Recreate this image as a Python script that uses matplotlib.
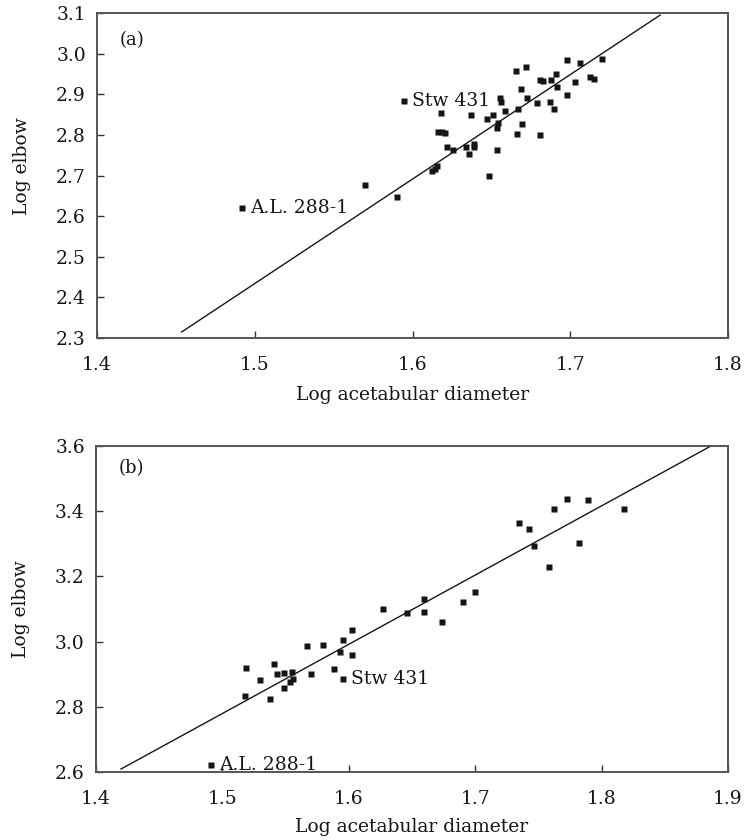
import matplotlib
matplotlib.use("Agg")
import matplotlib.pyplot as plt
import numpy as np

plt.rcParams['font.family'] = ['DejaVu Serif']

# ---- Panel (a) data ----
a_x = [1.570, 1.590, 1.6555, 1.6559, 1.6179, 1.6369, 1.647, 1.6508, 1.6584, 1.667,
       1.6656, 1.6717, 1.6688, 1.6726, 1.6789, 1.6806, 1.6827, 1.688, 1.6908, 1.6916,
       1.6872, 1.690, 1.6977, 1.7064, 1.703, 1.698, 1.7123, 1.7151, 1.7199, 1.6542,
       1.6534, 1.6696, 1.666, 1.6808, 1.6536, 1.6485, 1.6164, 1.6185, 1.6206, 1.6217,
       1.6259, 1.6339, 1.636, 1.639, 1.639, 1.6122, 1.6143, 1.6153]
a_y = [2.676, 2.648, 2.891, 2.882, 2.853, 2.850, 2.839, 2.848, 2.859, 2.863,
       2.958, 2.968, 2.912, 2.891, 2.879, 2.935, 2.932, 2.935, 2.950, 2.917,
       2.881, 2.864, 2.984, 2.976, 2.931, 2.897, 2.943, 2.937, 2.988, 2.830,
       2.817, 2.828, 2.802, 2.800, 2.763, 2.699, 2.807, 2.806, 2.804, 2.769,
       2.763, 2.769, 2.753, 2.777, 2.769, 2.712, 2.717, 2.724]
a_special_x = [1.492, 1.5946]
a_special_y = [2.620, 2.884]
a_special_names = ["A.L. 288-1", "Stw 431"]
a_line_x = [1.4537, 1.757]
a_line_y = [2.315, 3.095]

# ---- Panel (b) data ----
b_x = [1.5184, 1.5297, 1.541, 1.543, 1.5485, 1.5553, 1.5487, 1.5535, 1.556, 1.5669,
       1.5698, 1.5796, 1.5883, 1.5928, 1.5954, 1.6023, 1.6028, 1.6268, 1.646, 1.5179,
       1.5375, 1.6595, 1.6595, 1.6735, 1.6906, 1.6998, 1.7347, 1.7426, 1.7463, 1.7586,
       1.7623, 1.7729, 1.789, 1.7823, 1.8177]
b_y = [2.919, 2.882, 2.930, 2.902, 2.905, 2.907, 2.859, 2.877, 2.884, 2.987,
       2.902, 2.989, 2.915, 2.968, 3.004, 2.958, 3.036, 3.099, 3.088, 2.834,
       2.823, 3.132, 3.092, 3.059, 3.121, 3.153, 3.365, 3.344, 3.292, 3.229,
       3.408, 3.437, 3.433, 3.302, 3.406]
b_special_x = [1.491, 1.5954]
b_special_y = [2.621, 2.884]
b_special_names = ["A.L. 288-1", "Stw 431"]
b_line_x = [1.4198, 1.887]
b_line_y = [2.609, 3.601]

a_xticks = [1.4, 1.5, 1.6, 1.7, 1.8]
a_yticks = [2.3, 2.4, 2.5, 2.6, 2.7, 2.8, 2.9, 3.0, 3.1]
b_xticks = [1.4, 1.5, 1.6, 1.7, 1.8, 1.9]
b_yticks = [2.6, 2.8, 3.0, 3.2, 3.4, 3.6]

fig = plt.figure(figsize=(7.44, 8.40), dpi=100)
ax_a = fig.add_axes([0.1304, 0.5976, 0.8481, 0.3869])
ax_b = fig.add_axes([0.1290, 0.0810, 0.8495, 0.3881])

fs = 13.5
ink = '#151515'

def style(ax, xt, yt, xlim, ylim, tag, tagy, xlab_y, ylab_y):
    ax.set_xlim(*xlim)
    ax.set_ylim(*ylim)
    ax.set_xticks(xt)
    ax.set_yticks(yt)
    ax.set_xticklabels([f"{v:.1f}" for v in xt], fontsize=fs)
    ax.set_yticklabels([f"{v:.1f}" for v in yt], fontsize=fs)
    ax.tick_params(direction='in', length=5, width=1, colors='#333333',
                   labelcolor=ink)
    ax.tick_params(axis='x', pad=13)
    ax.tick_params(axis='y', pad=8)
    for s in ax.spines.values():
        s.set_color('#555555')
        s.set_linewidth(1.4)
    ax.set_xlabel("Log acetabular diameter", fontsize=fs, color=ink)
    ax.set_ylabel("Log elbow", fontsize=fs, color=ink)
    ax.xaxis.set_label_coords(0.5, xlab_y)
    ax.yaxis.set_label_coords(-0.105, ylab_y)
    ax.text(0.036, tagy, tag, transform=ax.transAxes, fontsize=fs - 0.5,
            color=ink, va='center', ha='left')

# Panel (a)
ax_a.plot(a_line_x, a_line_y, color=ink, lw=1.0)
ax_a.plot(a_x, a_y, 's', color=ink, ms=3.8, mec='none')
ax_a.plot(a_special_x, a_special_y, 's', color=ink, ms=3.8, mec='none')
for x, y, n in zip(a_special_x, a_special_y, a_special_names):
    ax_a.annotate(n, (x, y), xytext=(6, 0), textcoords='offset points',
                  fontsize=fs, color=ink, va='center', ha='left')
style(ax_a, a_xticks, a_yticks, (1.4, 1.8), (2.3, 3.1), "(a)", 0.917,
      -0.148, 0.53)

# Panel (b)
ax_b.plot(b_line_x, b_line_y, color=ink, lw=1.0)
ax_b.plot(b_x, b_y, 's', color=ink, ms=3.8, mec='none')
ax_b.plot(b_special_x, b_special_y, 's', color=ink, ms=3.8, mec='none')
for x, y, n in zip(b_special_x, b_special_y, b_special_names):
    ax_b.annotate(n, (x, y), xytext=(6, 0), textcoords='offset points',
                  fontsize=fs, color=ink, va='center', ha='left')
style(ax_b, b_xticks, b_yticks, (1.4, 1.9), (2.6, 3.6), "(b)", 0.932,
      -0.14, 0.5)

fig.savefig("out.png", dpi=100)
